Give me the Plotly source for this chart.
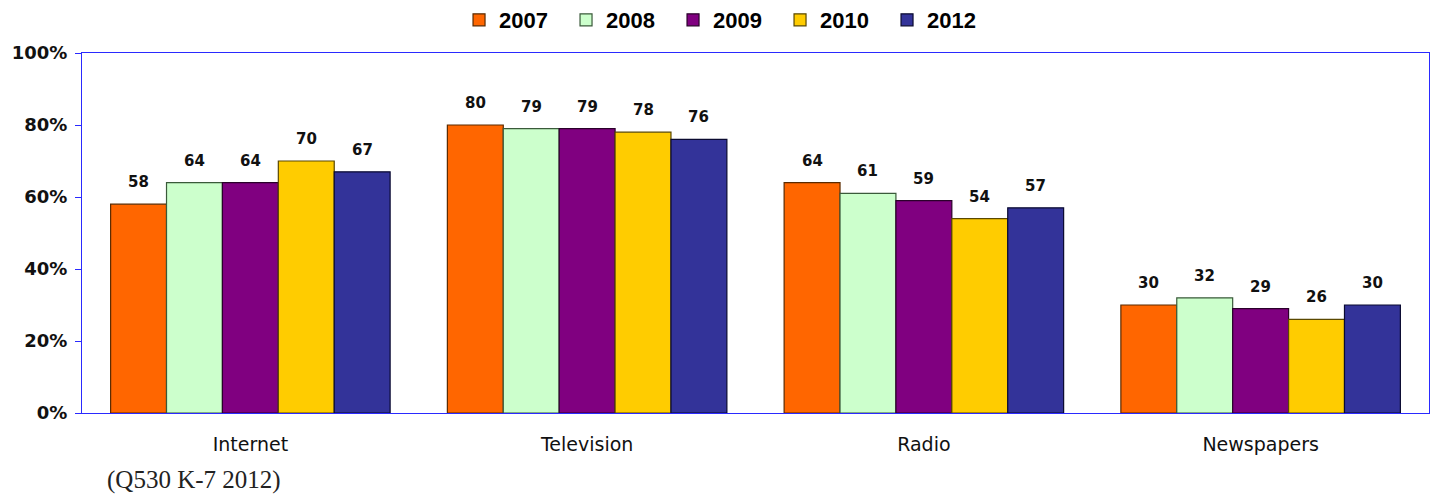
import plotly.graph_objects as go

categories = ["Internet", "Television", "Radio", "Newspapers"]
years = ["2007", "2008", "2009", "2010", "2012"]
v2007 = [58, 80, 64, 30]
v2008 = [64, 79, 61, 32]
v2009 = [64, 79, 59, 29]
v2010 = [70, 78, 54, 26]
v2012 = [67, 76, 57, 30]
series = [v2007, v2008, v2009, v2010, v2012]
colors = ["#FF6600", "#CCFFCC", "#800080", "#FFCC00", "#333399"]
lines = ["#5a2a00", "#3a5a3a", "#2a002a", "#5a4800", "#0a0a30"]

W, H = 1433, 495
ML, MR, MT, MB = 82, 4, 53, 82
BARGAP = 0.17
plot_w = W - ML - MR
plot_h = H - MT - MB
bar_px = plot_w / len(categories) * (1 - BARGAP) / len(years)

fig = go.Figure()
for j, (y, vals, c, lc) in enumerate(zip(years, series, colors, lines)):
    fig.add_trace(go.Bar(
        name=y, x=categories, y=vals,
        marker=dict(color=c, line=dict(color=lc, width=1.2)),
    ))
    for cat, v in zip(categories, vals):
        fig.add_annotation(x=cat, y=v, text=str(v), showarrow=False,
                           xref="x", yref="y", xanchor="center", yanchor="bottom",
                           xshift=(j - (len(years) - 1) / 2) * bar_px, yshift=11,
                           font=dict(family="DejaVu Sans", size=15, color="#111111",
                                     weight="bold"))

fig.update_layout(
    width=W, height=H,
    margin=dict(l=ML, r=MR, t=MT, b=MB, autoexpand=False),
    paper_bgcolor="white", plot_bgcolor="white",
    barmode="group", bargap=BARGAP, bargroupgap=0,
    showlegend=True,
    legend=dict(orientation="h", xref="container", yref="container",
                x=0.507, xanchor="center", y=1 - 20 / H, yanchor="middle",
                font=dict(family="Liberation Sans", size=22, color="#000000",
                          weight="bold"),
                itemwidth=30, entrywidth=62, traceorder="normal"),
)
fig.update_yaxes(range=[0, 100], dtick=20, ticksuffix="%", automargin=False,
                 showgrid=False, zeroline=False,
                 showline=True, linecolor="#2a2aff", linewidth=1, mirror=True,
                 ticks="outside", ticklen=6, tickcolor="#2a2aff",
                 ticklabelstandoff=4,
                 tickfont=dict(family="DejaVu Sans", size=18, color="#111111",
                               weight="bold"))
fig.update_xaxes(showgrid=False, zeroline=False, automargin=False,
                 showline=True, linecolor="#2a2aff", linewidth=1, mirror=True,
                 ticks="outside", ticklen=14, tickcolor="rgba(0,0,0,0)",
                 tickfont=dict(family="DejaVu Sans", size=19, color="#111111"))
fig.add_annotation(text="(Q530 K-7 2012)", xref="paper", yref="paper",
                   x=(105 - ML) / plot_w, y=-(480 - (H - MB)) / plot_h,
                   xanchor="left", yanchor="middle", showarrow=False,
                   font=dict(family="Liberation Serif", size=25, color="#222222"))

fig.write_html("out.html", config={"displayModeBar": False},
               post_script="document.body.style.margin='0';")
